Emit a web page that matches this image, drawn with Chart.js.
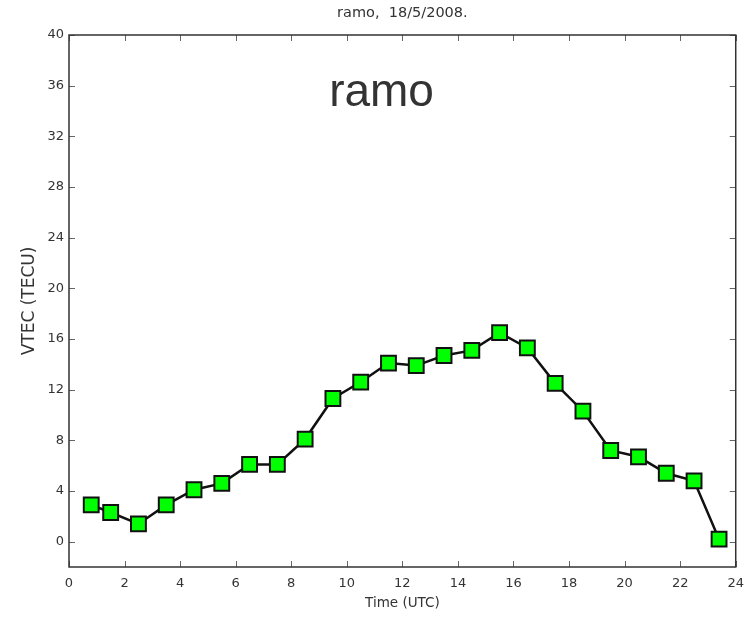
<!DOCTYPE html>
<html>
<head>
<meta charset="utf-8">
<script src="https://cdn.jsdelivr.net/npm/chart.js@4.4.0/dist/chart.umd.min.js"></script>
<style>
	html, body { margin: 0; padding: 0; background: #fff; }
	#vtec-chart { display: block; }
</style>
</head>
<body>
<canvas id="vtec-chart" width="753" height="617"></canvas>
<script>
//VTEC - station ramo

var VTECHours = [
	0.8, 1.5, 2.5, 3.5, 4.5, 5.5, 6.5, 7.5, 8.5, 9.5, 10.5, 11.5,
	12.5, 13.5, 14.5, 15.5, 16.5, 17.5, 18.5, 19.5, 20.5, 21.5, 22.5, 23.4,
];
var VTECValues = [
	2.9, 2.3, 1.4, 2.9, 4.1, 4.6, 6.1, 6.1, 8.1, 11.3, 12.6, 14.1,
	13.9, 14.7, 15.1, 16.5, 15.3, 12.5, 10.3, 7.2, 6.7, 5.4, 4.8, 0.2,
];
var VTECStation = 'ramo';
var VTECDate = '18/5/2008.';

var VTECPoints = VTECHours.map(function(h, i){
	return { x: h, y: VTECValues[i] };
});

var axisFont = '"DejaVu Sans", Verdana, sans-serif';

// box round the plot area with inward ticks on all four sides
var frameTicks = {
	id: 'frameTicks',
	afterDatasetsDraw: function(chart){
		var ctx = chart.ctx;
		var a = chart.chartArea;
		var xs = chart.scales.x, ys = chart.scales.y;
		var len = 6;
		ctx.save();
		ctx.strokeStyle = '#666';
		ctx.lineWidth = 1;
		ctx.beginPath();
		xs.ticks.forEach(function(t){
			var px = Math.round(xs.getPixelForValue(t.value)) + 0.5;
			ctx.moveTo(px, a.bottom); ctx.lineTo(px, a.bottom - len);
			ctx.moveTo(px, a.top); ctx.lineTo(px, a.top + len);
		});
		ys.ticks.forEach(function(t){
			var py = Math.round(ys.getPixelForValue(t.value)) + 0.5;
			ctx.moveTo(a.left, py); ctx.lineTo(a.left + len, py);
			ctx.moveTo(a.right, py); ctx.lineTo(a.right - len, py);
		});
		ctx.stroke();
		ctx.strokeStyle = '#333';
		ctx.lineWidth = 1.5;
		ctx.strokeRect(a.left, a.top, a.right - a.left, a.bottom - a.top);
		ctx.restore();
	}
};

// station name written inside the plot
var stationLabel = {
	id: 'stationLabel',
	afterDraw: function(chart){
		var ctx = chart.ctx;
		var xs = chart.scales.x, ys = chart.scales.y;
		ctx.save();
		ctx.font = '46px "Liberation Sans", Arial, sans-serif';
		ctx.fillStyle = '#333';
		ctx.textAlign = 'center';
		ctx.textBaseline = 'alphabetic';
		ctx.fillText(VTECStation, xs.getPixelForValue(11.25), ys.getPixelForValue(34.4));
		ctx.restore();
	}
};

window.addEventListener('load', function(){
	var VTECCtx = document.getElementById('vtec-chart').getContext('2d');
	var VTECChart = new Chart(VTECCtx, {
		type: 'scatter',
		data: {
			datasets: [{
				data: VTECPoints,
				showLine: true,
				borderColor: '#111',
				borderWidth: 2.5,
				pointStyle: 'rect',
				pointRadius: 10.5,
				pointBackgroundColor: '#00ff00',
				pointBorderColor: '#111',
				pointBorderWidth: 2,
			}]
		},
		options: {
			responsive: false,
			maintainAspectRatio: false,
			animation: false,
			layout: {
				padding: { left: 0, right: 17, top: 0, bottom: 0 }
			},
			plugins: {
				legend: { display: false },
				tooltip: { enabled: false },
				title: {
					display: true,
					fullSize: false,
					text: VTECStation + ',  ' + VTECDate,
					color: '#333',
					font: { family: axisFont, size: 14.5, weight: 'normal', lineHeight: 1.2 },
					padding: { top: 5, bottom: 12.6 },
				}
			},
			scales: {
				x: {
					type: 'linear',
					min: 0,
					max: 24,
					afterFit: function(scale){ scale.height = 50; },
					ticks: {
						stepSize: 2,
						padding: 9,
						maxRotation: 0,
						color: '#333',
						font: { family: axisFont, size: 13 },
					},
					grid: { display: false, drawTicks: false },
					border: { display: false },
					title: {
						display: true,
						text: 'Time (UTC)',
						color: '#333',
						font: { family: axisFont, size: 13.5 },
						padding: { top: 0, bottom: 5 },
					}
				},
				y: {
					type: 'linear',
					min: -2,
					max: 40,
					afterFit: function(scale){ scale.width = 69; },
					afterBuildTicks: function(scale){
						scale.ticks = scale.ticks.filter(function(t){ return t.value >= 0; });
					},
					ticks: {
						stepSize: 4,
						padding: 5,
						color: '#333',
						font: { family: axisFont, size: 13 },
					},
					grid: { display: false, drawTicks: false },
					border: { display: false },
					title: {
						display: true,
						text: 'VTEC (TECU)',
						color: '#333',
						font: { family: axisFont, size: 17 },
						padding: { top: 19, bottom: 0 },
					}
				}
			}
		},
		plugins: [frameTicks, stationLabel]
	});
});
</script>
</body>
</html>
